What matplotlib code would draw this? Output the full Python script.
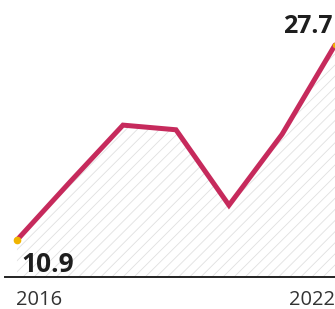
import matplotlib
matplotlib.use('Agg')
import matplotlib.pyplot as plt

years = [2016, 2017, 2018, 2019, 2020, 2021, 2022]
values = [10.9, 15.9, 20.8, 20.4, 13.9, 20.0, 27.7]
first_label = '10.9'
last_label = '27.7'

plt.rcParams['hatch.linewidth'] = 0.6

fig = plt.figure(figsize=(3.35, 3.09), dpi=100)
fig.patch.set_facecolor('white')
ax = fig.add_axes([0, 0, 1, 1])
ax.set_xlim(2015.68, 2022.0)
ax.set_ylim(4.96, 31.58)
ax.axis('off')

base = 7.68
ax.fill_between(years, values, base, facecolor='none', hatch='///',
                edgecolor='#e0e0e0', linewidth=0)
ax.plot(years, values, color='#c62a5c', linewidth=3.6, solid_capstyle='round',
        solid_joinstyle='miter', zorder=3)
ax.plot(years[0], values[0], 'o', color='#f0b400', markersize=4.5, zorder=4)
ax.plot(years[-1], values[-1], 'o', color='#f0b400', markersize=3, zorder=4)
ax.axhline(base, color='#222222', linewidth=1.4, xmin=0.015)

ax.text(2016.09, 8.14, first_label, fontsize=19, fontweight='bold',
        color='#1e1e1e', ha='left', va='baseline', family='Open Sans')
ax.text(2021.02, 28.73, last_label, fontsize=18, fontweight='bold',
        color='#1e1e1e', ha='left', va='baseline', family='Open Sans')
ax.text(2015.98, 5.3, str(years[0]), fontsize=14.5, color='#333333',
        ha='left', va='baseline', family='Open Sans')
ax.text(2021.995, 5.3, str(years[-1]), fontsize=14.5, color='#333333',
        ha='right', va='baseline', family='Open Sans')

fig.savefig('out.png', dpi=100)
